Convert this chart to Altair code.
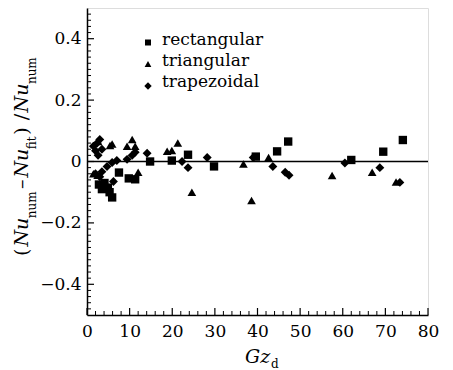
import altair as alt
import pandas as pd

# ---- data ----
series_names = ["rectangular", "triangular", "trapezoidal"]
series_shapes = ["square", "triangle-up", "diamond"]

rect_gz = [2.8, 3.5, 4.1, 4.9, 5.3, 5.9, 7.5, 9.8, 11.3, 14.8, 19.9, 23.7, 29.8, 39.6, 44.6, 47.2, 62.0, 69.5, 74.1]
rect_err = [-0.075, -0.09, -0.07, -0.085, -0.10, -0.117, -0.036, -0.055, -0.058, 0.0, 0.003, 0.022, -0.016, 0.016, 0.033, 0.065, 0.005, 0.032, 0.07]

tri_gz = [1.5, 2.5, 2.6, 5.4, 5.9, 9.4, 10.6, 11.3, 12.0, 18.8, 19.9, 21.3, 24.6, 36.7, 38.6, 42.6, 57.5, 66.9, 72.5]
tri_err = [-0.04, -0.045, 0.065, 0.052, 0.057, 0.05, 0.072, 0.05, -0.035, 0.033, 0.036, 0.06, -0.1, -0.008, -0.127, 0.013, -0.046, -0.035, -0.067]

trap_gz = [1.5, 2.0, 2.4, 3.0, 3.5, 2.6, 2.0, 3.0, 3.5, 4.7, 5.9, 7.0, 6.2, 9.4, 10.6, 11.3, 14.1,
           22.3, 23.7, 28.2, 39.0, 43.6, 46.5, 47.4, 60.5, 68.7, 73.4]
trap_err = [0.05, 0.035, 0.06, 0.072, 0.04, 0.02, -0.04, -0.05, -0.033, -0.016, -0.003, 0.003, -0.065, 0.007, 0.02, 0.03, 0.027,
            0.0, -0.02, 0.013, 0.013, -0.016, -0.035, -0.045, -0.005, -0.02, -0.068]

x_major = [0, 10, 20, 30, 40, 50, 60, 70, 80]
x_minor = [2, 4, 6, 8, 12, 14, 16, 18, 22, 24, 26, 28, 32, 34, 36, 38, 42, 44, 46, 48,
           52, 54, 56, 58, 62, 64, 66, 68, 72, 74, 76, 78]
y_labels = [-0.4, -0.2, 0, 0.2, 0.4]
y_minor = [-0.48, -0.46, -0.44, -0.42, -0.38, -0.36, -0.34, -0.32, -0.3, -0.28, -0.26, -0.24, -0.22,
           -0.18, -0.16, -0.14, -0.12, -0.1, -0.08, -0.06, -0.04, -0.02,
           0.02, 0.04, 0.06, 0.08, 0.1, 0.12, 0.14, 0.16, 0.18,
           0.22, 0.24, 0.26, 0.28, 0.3, 0.32, 0.34, 0.36, 0.38, 0.42, 0.44, 0.46, 0.48]

FONT = "DejaVu Serif"
W, H = 341, 307

df = pd.concat([
    pd.DataFrame({"gz": rect_gz, "err": rect_err, "series": series_names[0]}),
    pd.DataFrame({"gz": tri_gz, "err": tri_err, "series": series_names[1]}),
    pd.DataFrame({"gz": trap_gz, "err": trap_err, "series": series_names[2]}),
])
df["kind"] = df["series"]

xscale = alt.Scale(domain=[0, 80], nice=False, zero=False)
yscale = alt.Scale(domain=[-0.5, 0.5], nice=False, zero=False)
xaxis = alt.Axis(values=x_major, ticks=False, grid=False, title=None, labelFont=FONT, labelFontSize=17,
                 labelColor="black", labelPadding=8, domainColor="black", domainWidth=1.5, labelFlush=False)
yaxis = alt.Axis(values=y_labels, ticks=False, grid=False, title=None, labelFont=FONT, labelFontSize=17,
                 labelColor="black", labelPadding=6, domainColor="black", domainWidth=1.5,
                 labelExpr="datum.value == 0 ? '0' : format(datum.value, '.1f')")

X = alt.X("gz:Q", scale=xscale, axis=xaxis)
Y = alt.Y("err:Q", scale=yscale, axis=yaxis)

points = alt.Chart(df).mark_point(filled=True, opacity=1, color="black", strokeWidth=0).encode(
    x=X, y=Y,
    shape=alt.Shape("series:N", scale=alt.Scale(domain=series_names, range=series_shapes), legend=None),
    size=alt.Size("kind:O", scale=alt.Scale(domain=series_names, range=[70, 80, 100]), legend=None),
)

zero = alt.Chart(pd.DataFrame({"err": [0]})).mark_rule(color="black", strokeWidth=1.5).encode(y=Y)

xt_major = alt.Chart(pd.DataFrame({"gz": x_major})).mark_rule(color="black", strokeWidth=1.2).encode(
    x=X, y=alt.value(H), y2=alt.value(H - 7))
xt_minor = alt.Chart(pd.DataFrame({"gz": x_minor})).mark_rule(color="black", strokeWidth=1).encode(
    x=X, y=alt.value(H), y2=alt.value(H - 4))
yt_major = alt.Chart(pd.DataFrame({"err": y_labels})).mark_rule(color="black", strokeWidth=1.2).encode(
    y=Y, x=alt.value(0), x2=alt.value(7))
yt_minor = alt.Chart(pd.DataFrame({"err": y_minor})).mark_rule(color="black", strokeWidth=1).encode(
    y=Y, x=alt.value(0), x2=alt.value(4))


def piece(txt, x, y, size, italic=False, angle=0, fsize=None):
    kw = dict(font=FONT, fontSize=size, color="black", align="left", baseline="alphabetic")
    if italic:
        kw["fontStyle"] = "italic"
    if angle:
        kw["angle"] = angle
    return alt.Chart(pd.DataFrame({"t": [txt]})).mark_text(**kw).encode(
        text="t:N", x=alt.value(x), y=alt.value(y))


# manual legend (top-left inside the plot)
legend_layers = []
sym_y = [34.5, 56.0, 78.0]
sym_size = [36, 45, 55]
lab_base = [36.5, 57.5, 78.5]
for name, shp, sy, ss, lb in zip(series_names, series_shapes, sym_y, sym_size, lab_base):
    legend_layers.append(
        alt.Chart(pd.DataFrame({"t": [name]})).mark_point(
            filled=True, opacity=1, color="black", strokeWidth=0, shape=shp, size=ss
        ).encode(x=alt.value(61), y=alt.value(sy))
    )
    legend_layers.append(piece(name, 75, lb, 17))

MAIN, SUB = 19, 12
bx, sx = -59, -51
# (text, width estimate in px, gap after, is_sub, italic)
title_parts = [
    ("(", 7.4, 2.0, False, False),
    ("Nu", 27.3, 1.0, False, True),
    ("num", 26.7, 2.5, True, False),
    ("\u2013", 9.5, 2.0, False, False),
    ("Nu", 27.3, 1.0, False, True),
    ("fit", 13.1, 1.5, True, False),
    (")", 7.4, 7.0, False, False),
    ("/", 6.4, 1.5, False, False),
    ("Nu", 27.3, 1.0, False, True),
    ("num", 26.7, 0.0, True, False),
]
ytitle = []
pos = 256.0
for txt, wdt, gap, is_sub, ital in title_parts:
    ytitle.append(piece(txt, sx if is_sub else bx, pos - 8, SUB if is_sub else MAIN, italic=ital, angle=270))
    pos -= wdt + gap

xtitle = [
    piece("Gz", 245 - 87, 363 - 8, MAIN, italic=True),
    piece("d", 271 - 87, 368 - 8, SUB),
]

chart = alt.layer(zero, xt_major, xt_minor, yt_major, yt_minor, points,
                  *legend_layers, *ytitle, *xtitle).properties(
    width=W, height=H,
    autosize=alt.AutoSizeParams(type="none"),
    padding={"left": 87, "top": 8, "right": 25, "bottom": 55},
).configure_view(stroke="black", strokeWidth=1.5).configure(background="white")

chart.save("out.html", embed_options={"renderer": "svg", "actions": False})
